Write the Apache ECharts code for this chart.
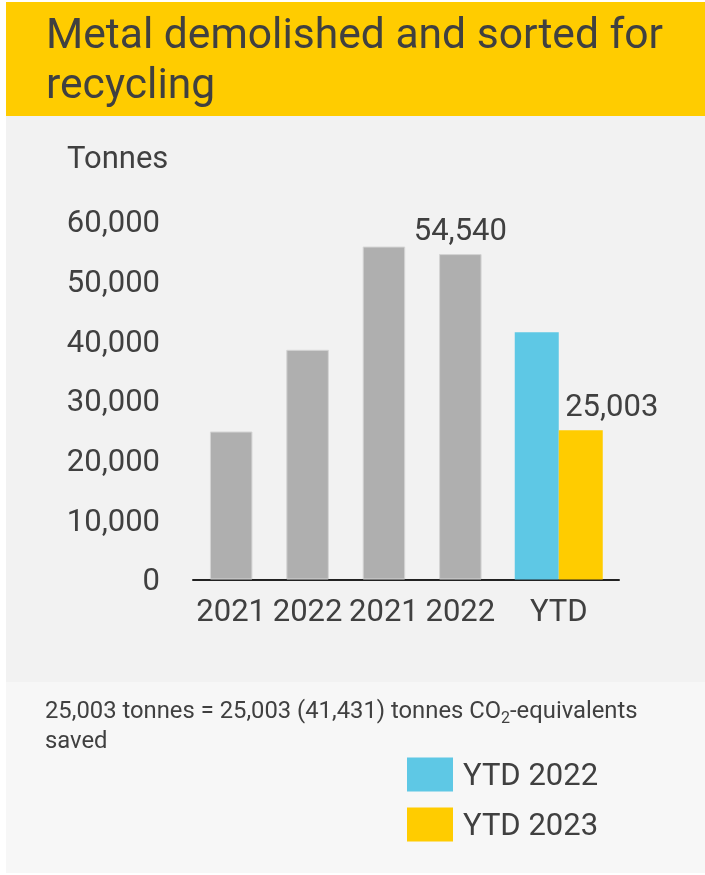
<!DOCTYPE html>
<html>
<head>
<meta charset="utf-8">
<script src="https://cdn.jsdelivr.net/npm/echarts@6/dist/echarts.min.js"></script>
<style>
html,body{margin:0;padding:0;background:#ffffff;}
#chart{width:705px;height:875px;}
</style>
</head>
<body>
<div id="chart"></div>
<script>
// Data
const annualCategories = ['2021', '2022', '2021', '2022'];
const annualValues = [24800, 38500, 55800, 54540];
const ytdCategories = ['YTD'];
const ytd2022Values = [41431];
const ytd2023Values = [25003];
const yTickLabels = ['0', '10,000', '20,000', '30,000', '40,000', '50,000', '60,000'];
const titleText = 'Metal demolished and sorted for\nrecycling';
const unitText = 'Tonnes';

const TXT = '#404040';
const FONT = 'Roboto';

const chart = echarts.init(document.getElementById('chart'), null, {renderer: 'canvas'});

const yAxisBase = {
  type: 'value', min: 0, max: 60000, interval: 10000,
  splitLine: {show: false}, axisLine: {show: false}, axisTick: {show: false}
};

chart.setOption({
  backgroundColor: '#ffffff',
  animation: false,
  textStyle: {fontFamily: FONT},
  graphic: [
    {type: 'rect', z: -10, shape: {x: 6, y: 2, width: 699, height: 114}, style: {fill: '#ffcc00'}},
    {type: 'rect', z: -10, shape: {x: 6, y: 116, width: 699, height: 566}, style: {fill: '#f2f2f2'}},
    {type: 'rect', z: -10, shape: {x: 6, y: 682, width: 699, height: 191}, style: {fill: '#f7f7f7'}},
    {type: 'text', left: 46, top: 12, style: {text: titleText, fontFamily: FONT, fontSize: 42.6, lineHeight: 50, fill: TXT}},
    {type: 'text', left: 67, top: 145, style: {text: unitText, fontFamily: FONT, fontSize: 31, lineHeight: 31, fill: TXT}},
    {type: 'text', left: 45, top: 697, style: {
      text: '{n|25,003 tonnes = 25,003 (41,431) tonnes CO}{s|2}{n|-equivalents}\n{n|saved}',
      fontFamily: FONT, fill: TXT,
      rich: {
        n: {fontFamily: FONT, fontSize: 23.8, lineHeight: 30, fill: TXT},
        s: {fontFamily: FONT, fontSize: 16, lineHeight: 30, fill: TXT, padding: [14, 0, 0, 0]}
      }
    }}
  ],
  legend: {
    orient: 'vertical', left: 407, top: 756, padding: 0,
    itemWidth: 46, itemHeight: 34, itemGap: 13,
    icon: 'rect',
    data: ['YTD 2022', 'YTD 2023'],
    formatter: function (name) { return '{a|' + name + '}'; },
    textStyle: {fontFamily: FONT, fontSize: 31, color: TXT,
      rich: {a: {fontFamily: FONT, fontSize: 31, color: TXT, lineHeight: 28, padding: [6, 0, 0, 5]}}}
  },
  grid: [
    {left: 193, right: 206.5, top: 221.5, bottom: 295.5},
    {left: 498.5, right: 86, top: 221.5, bottom: 295.5}
  ],
  xAxis: [
    {type: 'category', gridIndex: 0, data: annualCategories,
     axisLine: {lineStyle: {color: '#222', width: 2}}, axisTick: {show: false},
     axisLabel: {fontFamily: FONT, fontSize: 31, color: TXT, margin: 18, interval: 0}},
    {type: 'category', gridIndex: 1, data: ytdCategories,
     axisLine: {lineStyle: {color: '#222', width: 2}}, axisTick: {show: false},
     axisLabel: {fontFamily: FONT, fontSize: 31, color: TXT, margin: 18}}
  ],
  yAxis: [
    Object.assign({gridIndex: 0, axisLabel: {fontFamily: FONT, fontSize: 31, color: TXT, margin: 33,
      formatter: function (v) { return '{v|' + yTickLabels[Math.round(v / 10000)] + '}'; },
      rich: {v: {fontFamily: FONT, fontSize: 31, color: TXT, lineHeight: 31, padding: [6, 0, 0, 0]}}}}, yAxisBase),
    Object.assign({gridIndex: 1, axisLabel: {show: false}}, yAxisBase)
  ],
  series: [
    {
      name: 'Annual', type: 'bar', xAxisIndex: 0, yAxisIndex: 0, barWidth: 42.5,
      itemStyle: {color: '#afafaf', borderColor: '#d4d4d4', borderWidth: 1},
      data: annualValues.map(function (v, i) {
        return i === 3 ? {value: v, label: {show: true}} : v;
      }),
      label: {show: false, position: 'top', distance: 6, fontFamily: FONT, fontSize: 31, color: TXT,
        formatter: function (p) { return p.value.toLocaleString('en-US'); }}
    },
    {
      name: 'YTD 2022', type: 'bar', xAxisIndex: 1, yAxisIndex: 1, barWidth: 44, barGap: '0%',
      itemStyle: {color: '#5ec8e5'},
      data: ytd2022Values
    },
    {
      name: 'YTD 2023', type: 'bar', xAxisIndex: 1, yAxisIndex: 1, barWidth: 44, barGap: '0%',
      itemStyle: {color: '#ffcc00'},
      data: ytd2023Values,
      label: {show: true, position: 'top', distance: 7, offset: [31, 0], fontFamily: FONT, fontSize: 31, color: TXT,
        formatter: function (p) { return p.value.toLocaleString('en-US'); }}
    }
  ]
});
</script>
</body>
</html>
